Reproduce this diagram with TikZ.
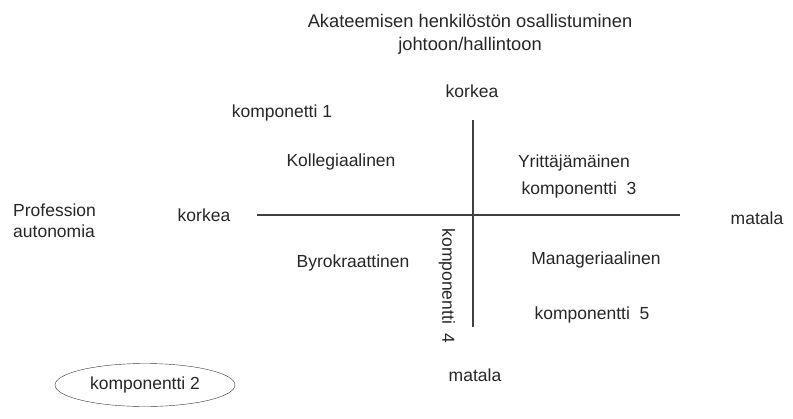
\documentclass[tikz,border=0pt]{standalone}
\usepackage{fontspec}
\setmainfont{Liberation Sans}
\usetikzlibrary{shapes.geometric}
\begin{document}
\begin{tikzpicture}[x=1pt,y=-1pt,
  lbl/.style={font=\fontsize{17.5}{21}\selectfont, inner sep=0pt, text=black!85},
  ttl/.style={font=\fontsize{18.3}{23}\selectfont, inner sep=0pt, text=black!85},
  axis/.style={draw=black!75, line width=1.1pt}]
\useasboundingbox (0,0) rectangle (793,418);
\node[ttl, align=center] (title) at (470,34) {Akateemisen henkilöstön osallistuminen\\johtoon/hallintoon};
\node[lbl] (ktop) at (472,91) {korkea};
\node[lbl] (k1) at (282,113) {komponetti 1};
\node[lbl] (koll) at (341,162) {Kollegiaalinen};
\node[lbl] (yri) at (574,163) {Yrittäjämäinen};
\node[lbl] (k3) at (579,190) {komponentti\ \ 3};
\node[lbl, align=left, anchor=west] (prof) at (13,221) {Profession\\autonomia};
\node[lbl] (kleft) at (204,215) {korkea};
\node[lbl] (mright) at (757,218) {matala};
\node[lbl] (byro) at (353,263) {Byrokraattinen};
\node[lbl] (man) at (596,260) {Manageriaalinen};
\node[lbl] (k5) at (592,315) {komponentti\ \ 5};
\node[lbl, rotate=-90] (k4) at (447,286) {komponentti\ \ 4};
\node[lbl] (mbot) at (475,375) {matala};
\node[draw=black!80, ellipse, minimum width=180pt, minimum height=43pt, inner sep=0pt] (e2) at (145,385) {};
\node[lbl] (k2) at (e2.center) {komponentti 2};
\coordinate (hl) at (257,215);
\coordinate (hr) at (680,215);
\coordinate (vt) at (473,120);
\coordinate (vb) at (473,327);
\draw[axis] (hl) -- (hr);
\draw[axis] (vt) -- (vb);
\end{tikzpicture}
\end{document}
